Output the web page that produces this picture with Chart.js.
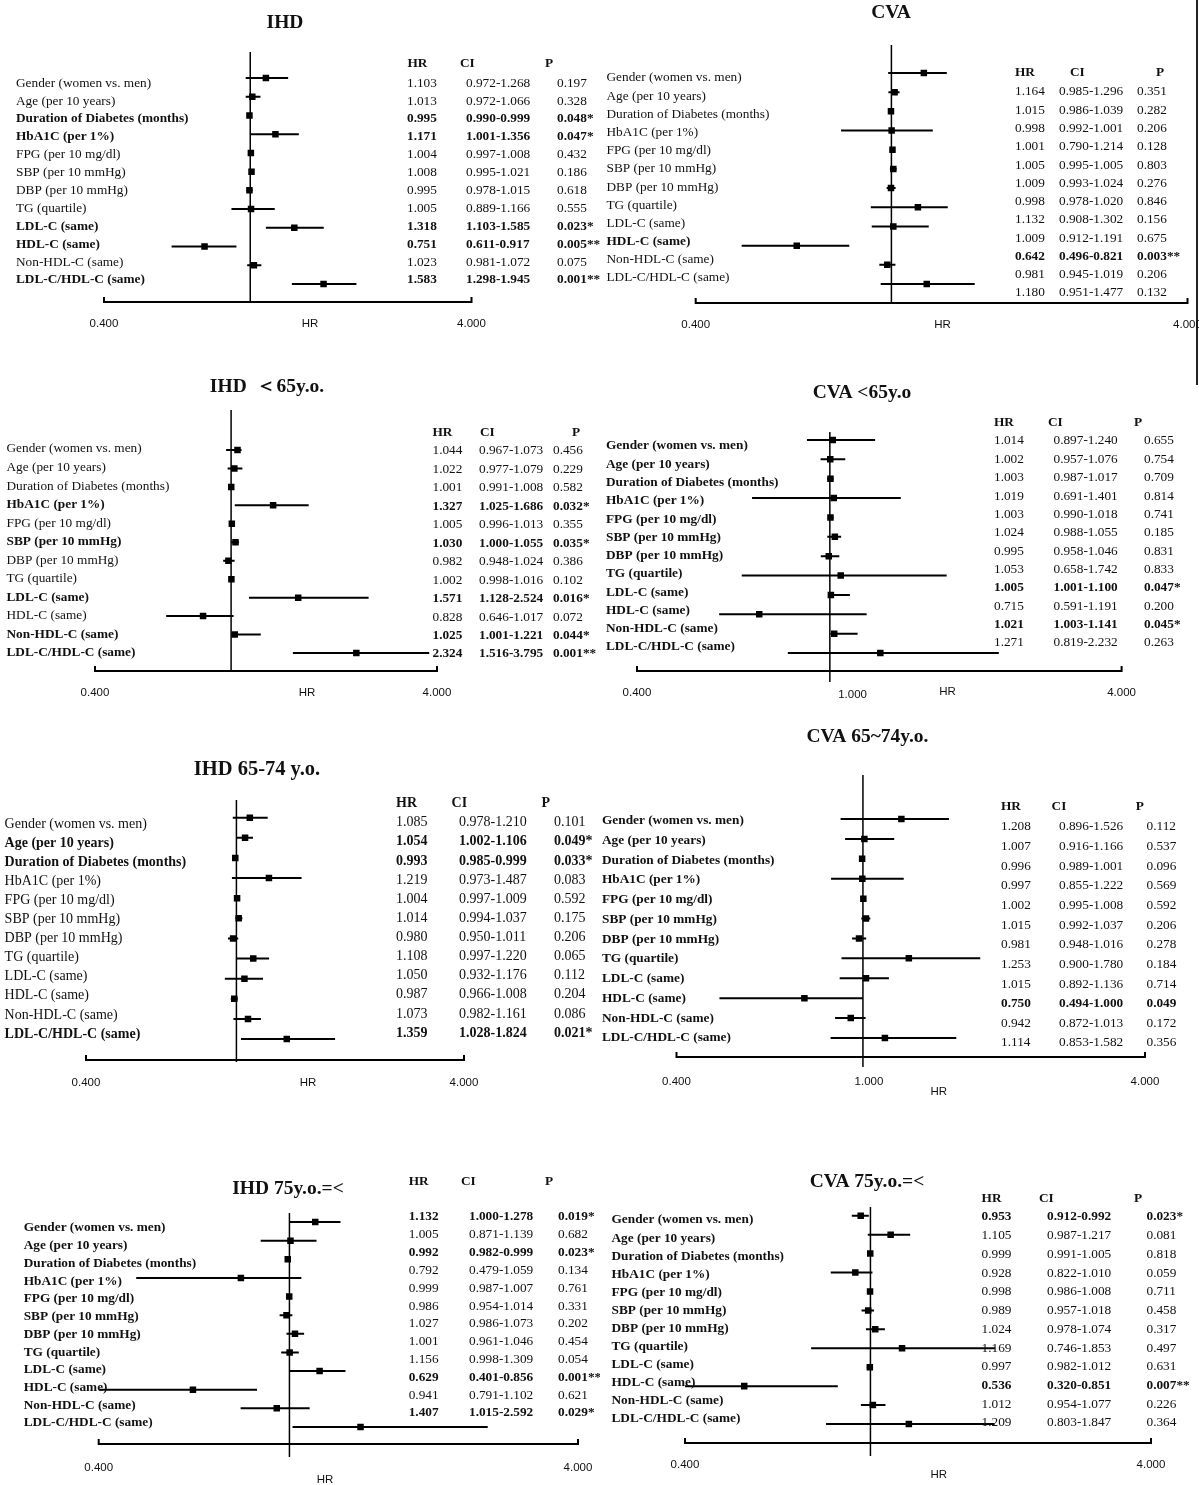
<!DOCTYPE html>
<html>
<head>
<meta charset='utf-8'>
<title>HR forest plots</title>
<script src="https://cdn.jsdelivr.net/npm/chart.js"></script>
<style>
    body { margin: 0; background: #fff; }
    #wrap { position: relative; width: 1199px; height: 1485px; background: #fff; }
    #wrap canvas { position: absolute; }
    #edge { position: absolute; left: 1196px; top: 0; width: 2px; height: 385px; background: #222; }
</style>
</head>
<body>
<div id="wrap"><div id="edge"></div></div>
<script>

var factors = [
    'Gender (women vs. men)',
    'Age (per 10 years)',
    'Duration of Diabetes (months)',
    'HbA1C (per 1%)',
    'FPG (per 10 mg/dl)',
    'SBP (per 10 mmHg)',
    'DBP (per 10 mmHg)',
    'TG (quartile)',
    'LDL-C (same)',
    'HDL-C (same)',
    'Non-HDL-C (same)',
    'LDL-C/HDL-C (same)'
];

// IHD, all ages
var ihdHR = [1.103, 1.013, 0.995, 1.171, 1.004, 1.008, 0.995, 1.005, 1.318, 0.751, 1.023, 1.583];
var ihdLo = [0.972, 0.972, 0.990, 1.001, 0.997, 0.995, 0.978, 0.889, 1.103, 0.611, 0.981, 1.298];
var ihdHi = [1.268, 1.066, 0.999, 1.356, 1.008, 1.021, 1.015, 1.166, 1.585, 0.917, 1.072, 1.945];
var ihdP  = ['0.197', '0.328', '0.048*', '0.047*', '0.432', '0.186', '0.618', '0.555', '0.023*', '0.005**', '0.075', '0.001**'];

// CVA, all ages
var cvaHR = [1.164, 1.015, 0.998, 1.001, 1.005, 1.009, 0.998, 1.132, 1.009, 0.642, 0.981, 1.180];
var cvaLo = [0.985, 0.986, 0.992, 0.790, 0.995, 0.993, 0.978, 0.908, 0.912, 0.496, 0.945, 0.951];
var cvaHi = [1.296, 1.039, 1.001, 1.214, 1.005, 1.024, 1.020, 1.302, 1.191, 0.821, 1.019, 1.477];
var cvaP  = ['0.351', '0.282', '0.206', '0.128', '0.803', '0.276', '0.846', '0.156', '0.675', '0.003**', '0.206', '0.132'];

// IHD < 65
var ihd65HR = [1.044, 1.022, 1.001, 1.327, 1.005, 1.030, 0.982, 1.002, 1.571, 0.828, 1.025, 2.324];
var ihd65Lo = [0.967, 0.977, 0.991, 1.025, 0.996, 1.000, 0.948, 0.998, 1.128, 0.646, 1.001, 1.516];
var ihd65Hi = [1.073, 1.079, 1.008, 1.686, 1.013, 1.055, 1.024, 1.016, 2.524, 1.017, 1.221, 3.795];
var ihd65P  = ['0.456', '0.229', '0.582', '0.032*', '0.355', '0.035*', '0.386', '0.102', '0.016*', '0.072', '0.044*', '0.001**'];

// CVA < 65
var cva65HR = [1.014, 1.002, 1.003, 1.019, 1.003, 1.024, 0.995, 1.053, 1.005, 0.715, 1.021, 1.271];
var cva65Lo = [0.897, 0.957, 0.987, 0.691, 0.990, 0.988, 0.958, 0.658, 1.001, 0.591, 1.003, 0.819];
var cva65Hi = [1.240, 1.076, 1.017, 1.401, 1.018, 1.055, 1.046, 1.742, 1.100, 1.191, 1.141, 2.232];
var cva65P  = ['0.655', '0.754', '0.709', '0.814', '0.741', '0.185', '0.831', '0.833', '0.047*', '0.200', '0.045*', '0.263'];

// IHD 65-74
var ihd74HR = [1.085, 1.054, 0.993, 1.219, 1.004, 1.014, 0.980, 1.108, 1.050, 0.987, 1.073, 1.359];
var ihd74Lo = [0.978, 1.002, 0.985, 0.973, 0.997, 0.994, 0.950, 0.997, 0.932, 0.966, 0.982, 1.028];
var ihd74Hi = [1.210, 1.106, 0.999, 1.487, 1.009, 1.037, 1.011, 1.220, 1.176, 1.008, 1.161, 1.824];
var ihd74P  = ['0.101', '0.049*', '0.033*', '0.083', '0.592', '0.175', '0.206', '0.065', '0.112', '0.204', '0.086', '0.021*'];

// CVA 65~74
var cva74HR = [1.208, 1.007, 0.996, 0.997, 1.002, 1.015, 0.981, 1.253, 1.015, 0.750, 0.942, 1.114];
var cva74Lo = [0.896, 0.916, 0.989, 0.855, 0.995, 0.992, 0.948, 0.900, 0.892, 0.494, 0.872, 0.853];
var cva74Hi = [1.526, 1.166, 1.001, 1.222, 1.008, 1.037, 1.016, 1.780, 1.136, 1.000, 1.013, 1.582];
var cva74P  = ['0.112', '0.537', '0.096', '0.569', '0.592', '0.206', '0.278', '0.184', '0.714', '0.049', '0.172', '0.356'];

// IHD >= 75
var ihd75HR = [1.132, 1.005, 0.992, 0.792, 0.999, 0.986, 1.027, 1.001, 1.156, 0.629, 0.941, 1.407];
var ihd75Lo = [1.000, 0.871, 0.982, 0.479, 0.987, 0.954, 0.986, 0.961, 0.998, 0.401, 0.791, 1.015];
var ihd75Hi = [1.278, 1.139, 0.999, 1.059, 1.007, 1.014, 1.073, 1.046, 1.309, 0.856, 1.102, 2.592];
var ihd75P  = ['0.019*', '0.682', '0.023*', '0.134', '0.761', '0.331', '0.202', '0.454', '0.054', '0.001**', '0.621', '0.029*'];

// CVA >= 75
var cva75HR = [0.953, 1.105, 0.999, 0.928, 0.998, 0.989, 1.024, 1.169, 0.997, 0.536, 1.012, 1.209];
var cva75Lo = [0.912, 0.987, 0.991, 0.822, 0.986, 0.957, 0.978, 0.746, 0.982, 0.320, 0.954, 0.803];
var cva75Hi = [0.992, 1.217, 1.005, 1.010, 1.008, 1.018, 1.074, 1.853, 1.012, 0.851, 1.077, 1.847];
var cva75P  = ['0.023*', '0.081', '0.818', '0.059', '0.711', '0.458', '0.317', '0.497', '0.631', '0.007**', '0.226', '0.364'];

var ALL = [0, 1, 2, 3, 4, 5, 6, 7, 8, 9, 10, 11];

// layout of each panel, in page pixels
var panels = [
    { title: 'IHD', hr: ihdHR, lo: ihdLo, hi: ihdHi, p: ihdP,
      box: [0, 0, 600, 350], titleX: 285, titleY: 23, titleSize: 19.5,
      x0: 104, x1: 471.5, axisY: 302, vTop: 52, vBottom: 302, ptY0: 78, ptY11: 284,
      labX: 16, labY0: 83.3, labY11: 280, labSize: 13.3, labBold: [2, 3, 8, 9, 11],
      headY: 63.5, headX: [407.5, 460, 545],
      tabY0: 83.3, tabY11: 280, tabX: [407, 466, 557], tabBold: [2, 3, 8, 9, 11],
      ticksY: 324, hrX: 310, hrY: 324 },
    { title: 'CVA', hr: cvaHR, lo: cvaLo, hi: cvaHi, p: cvaP,
      box: [600, 0, 599, 350], titleX: 891, titleY: 13, titleSize: 19.5,
      x0: 695.7, x1: 1187.5, axisY: 303, vTop: 45, vBottom: 303, ptY0: 73, ptY11: 284,
      labX: 606.5, labY0: 78, labY11: 278, labSize: 13.3, labBold: [9],
      headY: 73, headX: [1015, 1070, 1156],
      tabY0: 92, tabY11: 293, tabX: [1015, 1059, 1137], tabBold: [9],
      ticksY: 325, hrX: 942.5, hrY: 325 },
    { title: 'IHD  \uFF1C65y.o.', hr: ihd65HR, lo: ihd65Lo, hi: ihd65Hi, p: ihd65P,
      box: [0, 350, 600, 365], titleX: 267, titleY: 387, titleSize: 19.5,
      x0: 95, x1: 437, axisY: 671, vTop: 410, vBottom: 672, ptY0: 450, ptY11: 653,
      labX: 6.5, labY0: 449, labY11: 653, labSize: 13.3, labBold: [3, 5, 8, 10, 11],
      headY: 433, headX: [432.5, 480, 572],
      tabY0: 451, tabY11: 654, tabX: [432.5, 479, 553], tabBold: [3, 5, 8, 10, 11],
      ticksY: 693, hrX: 307, hrY: 693 },
    { title: 'CVA <65y.o', hr: cva65HR, lo: cva65Lo, hi: cva65Hi, p: cva65P,
      box: [600, 350, 599, 365], titleX: 862, titleY: 393, titleSize: 19.5,
      x0: 637, x1: 1121.6, axisY: 671, vTop: 432, vBottom: 682, ptY0: 440, ptY11: 653,
      labX: 606, labY0: 446, labY11: 647, labSize: 13.3, labBold: ALL,
      headY: 423, headX: [994, 1048, 1134],
      tabY0: 441, tabY11: 643, tabX: [994, 1053.5, 1144], tabBold: [8, 10],
      ticksY: 693, hrX: 947.5, hrY: 692, oneX: 852.6, oneY: 695 },
    { title: 'IHD 65-74 y.o.', hr: ihd74HR, lo: ihd74Lo, hi: ihd74Hi, p: ihd74P,
      box: [0, 715, 600, 405], titleX: 257, titleY: 770, titleSize: 20.5,
      x0: 86, x1: 464, axisY: 1060, vTop: 800, vBottom: 1062, ptY0: 817.7, ptY11: 1039,
      labX: 4.6, labY0: 824, labY11: 1034, labSize: 14, labBold: [1, 2, 11],
      headY: 803, headX: [396, 451.6, 541.5],
      tabY0: 822.7, tabY11: 1033, tabX: [396, 459, 554], tabBold: [1, 2, 11],
      ticksY: 1082.7, hrX: 308, hrY: 1082.7 },
    { title: 'CVA 65~74y.o.', hr: cva74HR, lo: cva74Lo, hi: cva74Hi, p: cva74P,
      box: [600, 715, 599, 405], titleX: 867.5, titleY: 737, titleSize: 19.5,
      x0: 676.5, x1: 1145, axisY: 1057, vTop: 775, vBottom: 1067, ptY0: 819, ptY11: 1038,
      labX: 602, labY0: 820.7, labY11: 1038, labSize: 13.3, labBold: ALL,
      headY: 807, headX: [1001, 1051.6, 1135.8],
      tabY0: 826.7, tabY11: 1043, tabX: [1001, 1059, 1146.5], tabBold: [9],
      ticksY: 1081.7, hrX: 938.7, hrY: 1092, oneX: 869, oneY: 1082 },
    { title: 'IHD 75y.o.=<', hr: ihd75HR, lo: ihd75Lo, hi: ihd75Hi, p: ihd75P,
      box: [0, 1120, 600, 365], titleX: 288, titleY: 1189, titleSize: 19.5,
      x0: 98.7, x1: 578, axisY: 1444, vTop: 1213, vBottom: 1457, ptY0: 1222, ptY11: 1427,
      labX: 23.7, labY0: 1228, labY11: 1423, labSize: 13.3, labBold: ALL,
      headY: 1181.7, headX: [408.7, 461, 545],
      tabY0: 1217, tabY11: 1413, tabX: [408.7, 469, 558], tabBold: [0, 2, 9, 11],
      ticksY: 1468, hrX: 325, hrY: 1480 },
    { title: 'CVA 75y.o.=<', hr: cva75HR, lo: cva75Lo, hi: cva75Hi, p: cva75P,
      box: [600, 1120, 599, 365], titleX: 867, titleY: 1182, titleSize: 19.5,
      x0: 685, x1: 1151, axisY: 1443, vTop: 1207, vBottom: 1456, ptY0: 1215.7, ptY11: 1424,
      labX: 611.5, labY0: 1220, labY11: 1419, labSize: 13.3, labBold: ALL,
      headY: 1199, headX: [981.6, 1039, 1134],
      tabY0: 1217, tabY11: 1423, tabX: [981.6, 1047, 1146.5], tabBold: [0, 9],
      ticksY: 1465, hrX: 938.7, hrY: 1475 }
];

var SERIF = '"Liberation Serif", "Times New Roman", serif';
var SANS = '"Liberation Sans", Arial, sans-serif';

function serif(ctx, size, bold) {
    ctx.font = (bold ? 'bold ' : '') + size + 'px ' + SERIF;
}

function makeDecor(pn) {
    var ox = pn.box[0], oy = pn.box[1];
    return {
        id: 'forestDecor',
        beforeDatasetsDraw: function(chart) {
            var ctx = chart.ctx, xs = chart.scales.x;
            var xOne = xs.getPixelForValue(1);
            var xa = xs.getPixelForValue(0.4), xb = xs.getPixelForValue(4);
            var ay = pn.axisY - oy;
            ctx.save();
            ctx.strokeStyle = '#000';
            ctx.lineWidth = 1.5;
            ctx.beginPath();
            ctx.moveTo(xOne, pn.vTop - oy);
            ctx.lineTo(xOne, pn.vBottom - oy);
            ctx.stroke();
            ctx.lineWidth = 2;
            ctx.beginPath();
            ctx.moveTo(xa, ay - 5);
            ctx.lineTo(xa, ay);
            ctx.lineTo(xb, ay);
            ctx.lineTo(xb, ay - 5);
            ctx.stroke();
            ctx.restore();
        },
        afterDraw: function(chart) {
            var ctx = chart.ctx, xs = chart.scales.x;
            ctx.save();
            ctx.fillStyle = '#111';
            ctx.textBaseline = 'middle';

            serif(ctx, pn.titleSize, true);
            ctx.textAlign = 'center';
            ctx.fillText(pn.title, pn.titleX - ox, pn.titleY - oy);

            ctx.textAlign = 'left';
            var lStep = (pn.labY11 - pn.labY0) / 11;
            factors.forEach(function(f, i) {
                serif(ctx, pn.labSize, pn.labBold.indexOf(i) >= 0);
                ctx.fillText(f, pn.labX - ox, pn.labY0 + i * lStep - oy);
            });

            serif(ctx, pn.labSize, true);
            ['HR', 'CI', 'P'].forEach(function(h, k) {
                ctx.fillText(h, pn.headX[k] - ox, pn.headY - oy);
            });

            var tStep = (pn.tabY11 - pn.tabY0) / 11;
            pn.hr.forEach(function(v, i) {
                var y = pn.tabY0 + i * tStep - oy;
                serif(ctx, pn.labSize, pn.tabBold.indexOf(i) >= 0);
                ctx.fillText(v.toFixed(3), pn.tabX[0] - ox, y);
                ctx.fillText(pn.lo[i].toFixed(3) + '-' + pn.hi[i].toFixed(3), pn.tabX[1] - ox, y);
                ctx.fillText(pn.p[i], pn.tabX[2] - ox, y);
            });

            ctx.font = '11.5px ' + SANS;
            ctx.textAlign = 'center';
            ctx.fillText('0.400', xs.getPixelForValue(0.4), pn.ticksY - oy);
            ctx.fillText('4.000', xs.getPixelForValue(4), pn.ticksY - oy);
            ctx.fillText('HR', pn.hrX - ox, pn.hrY - oy);
            if (pn.oneX) ctx.fillText('1.000', pn.oneX - ox, pn.oneY - oy);
            ctx.restore();
        }
    };
}

var wrap = document.getElementById('wrap');

panels.forEach(function(pn) {
    var cv = document.createElement('canvas');
    cv.width = pn.box[2];
    cv.height = pn.box[3];
    cv.style.left = pn.box[0] + 'px';
    cv.style.top = pn.box[1] + 'px';
    wrap.appendChild(cv);

    var pitch = (pn.ptY11 - pn.ptY0) / 11;
    var padding = {
        left: pn.x0 - pn.box[0],
        right: pn.box[0] + pn.box[2] - pn.x1,
        top: pn.ptY0 - pitch / 2 - pn.box[1],
        bottom: pn.box[1] + pn.box[3] - (pn.ptY11 + pitch / 2)
    };

    var datasets = [{
        label: 'HR',
        data: pn.hr.map(function(v, i) { return { x: v, y: i }; }),
        pointStyle: 'rect',
        pointRadius: 4.6,
        backgroundColor: '#000',
        borderWidth: 0,
        order: 0
    }];
    pn.lo.forEach(function(v, i) {
        datasets.push({
            label: 'CI ' + factors[i],
            data: [{ x: v, y: i }, { x: pn.hi[i], y: i }],
            showLine: true,
            borderColor: '#000',
            borderWidth: 2,
            pointRadius: 0,
            order: 1
        });
    });

    new Chart(cv.getContext('2d'), {
        type: 'scatter',
        data: { datasets: datasets },
        options: {
            responsive: false,
            animation: false,
            events: [],
            layout: { padding: padding },
            plugins: { legend: { display: false }, tooltip: { enabled: false } },
            scales: {
                x: { type: 'logarithmic', min: 0.4, max: 4, display: false },
                y: { type: 'linear', min: -0.5, max: 11.5, reverse: true, display: false }
            }
        },
        plugins: [makeDecor(pn)]
    });
});

</script>
</body>
</html>
